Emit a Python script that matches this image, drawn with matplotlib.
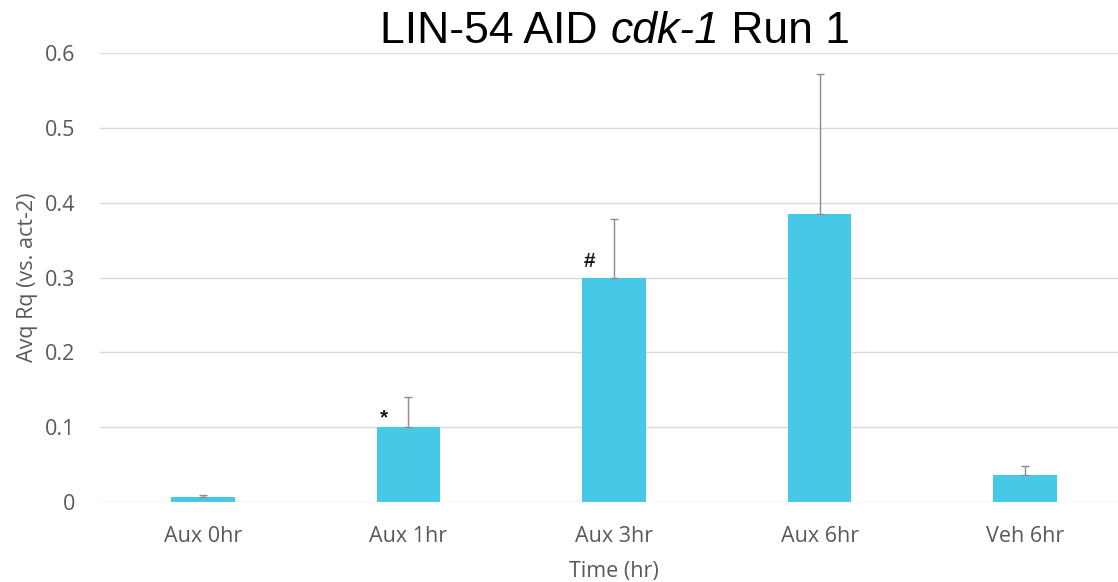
import matplotlib
matplotlib.use("Agg")
import matplotlib.pyplot as plt
import numpy as np

categories = ["Aux 0hr", "Aux 1hr", "Aux 3hr", "Aux 6hr", "Veh 6hr"]
avg_rq = [0.0067, 0.100, 0.299, 0.385, 0.037]
err_up = [0.003, 0.040, 0.079, 0.186, 0.012]
marks = ["", "*", "#", "", ""]
mark_y = [0, 0.112, 0.321, 0, 0]
yticks = [0, 0.1, 0.2, 0.3, 0.4, 0.5, 0.6]
ytick_labels = ["0", "0.1", "0.2", "0.3", "0.4", "0.5", "0.6"]

fig = plt.figure(figsize=(11.18, 5.82), dpi=100)
ax = fig.add_axes([100/1118, 1-502.3/582, 1028/1118, 449.6/582])

x = np.arange(len(categories))
ax.bar(x, avg_rq, width=0.31, color="#45C9E6", zorder=3)
ax.errorbar(x, avg_rq, yerr=[np.zeros(len(err_up)), err_up], fmt="none",
            ecolor="#8C8C8C", elinewidth=1, capsize=3, capthick=1, zorder=4)

for xi, m, my in zip(x, marks, mark_y):
    if m:
        ax.text(xi - 0.12, my, m, ha="center", va="center",
                fontsize=15, fontweight="bold", color="#1a1a1a",
                family="Liberation Sans")

ax.set_xlim(-0.5, len(categories) - 0.5)
ax.set_ylim(0, 0.6)
ax.set_yticks(yticks)
ax.set_yticklabels(ytick_labels)
ax.set_xticks(x)
ax.set_xticklabels(categories)
ax.grid(axis="y", color="#D9D9D9", linewidth=1, zorder=0)
for s in ax.spines.values():
    s.set_visible(False)
ax.tick_params(axis="both", length=0, labelsize=15.5, labelcolor="#595959")
ax.tick_params(axis="y", pad=18)
ax.tick_params(axis="x", pad=17)
for lab in ax.get_xticklabels() + ax.get_yticklabels():
    lab.set_family("Open Sans")

ax.set_xlabel("Time (hr)", fontsize=15.5, color="#595959", family="Open Sans", labelpad=10)
ax.set_ylabel("Avq Rq (vs. act-2)", fontsize=15.5, color="#595959", family="Open Sans", labelpad=5)

# Title built from pieces (upright / italic / upright), centred as a whole
parts = [("LIN-54 AID ", "normal"), ("cdk-1", "italic"), (" Run 1", "normal")]
renderer = fig.canvas.get_renderer()
texts = []
for s, st in parts:
    t = fig.text(0, 1-43/582, s, ha="left", va="baseline", fontsize=32,
                 family="Liberation Sans", style=st, color="#000000")
    texts.append(t)
widths = [t.get_window_extent(renderer).width for t in texts]
total = sum(widths)
start = 615 - total/2
for t, w in zip(texts, widths):
    t.set_x(start/1118)
    start += w

fig.savefig("out.png", dpi=100)
